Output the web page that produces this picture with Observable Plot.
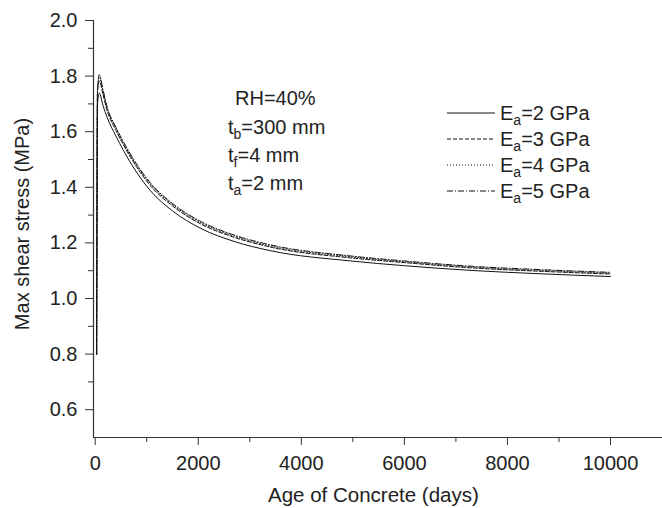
<!DOCTYPE html>
<html><head><meta charset="utf-8">
<script src="https://cdn.jsdelivr.net/npm/d3@7"></script>
<script src="https://cdn.jsdelivr.net/npm/@observablehq/plot@0.6"></script>
<style>
body{margin:0;background:#fff;}
#wrap{position:relative;width:662px;height:508px;font-family:"Liberation Sans",Arial,Helvetica,sans-serif;color:#222;}
.t{position:absolute;font-size:20px;line-height:20px;white-space:nowrap;}
.t sub{font-size:14px;vertical-align:-5px;line-height:0;}
#wrap svg.ov{position:absolute;left:0;top:0;pointer-events:none;}
</style></head><body><div id="wrap"></div>
<script>
// ---- data ----
const days = [28, 45, 80, 150, 230, 400, 550, 800, 1070, 1500, 2050, 2700, 3400, 4960, 6000, 7390, 8500, 10000];
const ea2 = [0.80, 1.70, 1.739, 1.695, 1.652, 1.585, 1.532, 1.455, 1.388, 1.315, 1.252, 1.205, 1.172, 1.135, 1.118, 1.100, 1.090, 1.079];
const ea3 = [0.80, 1.74, 1.782, 1.735, 1.677, 1.605, 1.552, 1.474, 1.406, 1.333, 1.268, 1.220, 1.185, 1.146, 1.129, 1.109, 1.099, 1.088];
const ea4 = [0.80, 1.75, 1.794, 1.745, 1.684, 1.612, 1.558, 1.480, 1.412, 1.338, 1.273, 1.224, 1.189, 1.150, 1.132, 1.112, 1.102, 1.091];
const ea5 = [0.80, 1.76, 1.805, 1.752, 1.690, 1.617, 1.563, 1.485, 1.416, 1.342, 1.277, 1.228, 1.193, 1.153, 1.135, 1.115, 1.105, 1.094];
const seriesNames = ["2", "3", "4", "5"];
const seriesValues = [ea2, ea3, ea4, ea5];
const dashes = [null, "4,2", "1,2", "6,2,1,2"];
const xMajor = [0, 2000, 4000, 6000, 8000, 10000];
const xMinor = [1000, 3000, 5000, 7000, 9000];
const yMajor = [0.6, 0.8, 1.0, 1.2, 1.4, 1.6, 1.8, 2.0];
const yMinor = [0.7, 0.9, 1.1, 1.3, 1.5, 1.7, 1.9];
const xDomain = [-33, 11009];
const yDomain = [0.5, 2.0];
const xTitle = "Age of Concrete (days)";
const yTitle = "Max shear stress (MPa)";

const table = seriesNames.flatMap((s, i) => days.map((d, j) => ({day: d, v: seriesValues[i][j], s})));

const axisColor = "#333";
const marks = [];
seriesNames.forEach((s, i) => {
  marks.push(Plot.line(table.filter(r => r.s === s), {
    x: "day", y: "v", curve: "monotone-x", stroke: "#111", strokeWidth: 1,
    strokeDasharray: dashes[i] || undefined
  }));
});
marks.push(
  Plot.ruleY([yDomain[0]], {stroke: axisColor, strokeWidth: 1.2}),
  Plot.ruleX([xDomain[0]], {stroke: axisColor, strokeWidth: 1.2}),
  Plot.axisX({ticks: xMajor, tickSize: 8, tickPadding: 10, tickFormat: d3.format("d"), label: null, stroke: axisColor, fill: "#222", fontSize: 20}),
  Plot.axisX({ticks: xMinor, tickSize: 5, tickFormat: null, label: null, stroke: axisColor, text: null}),
  Plot.axisY({ticks: yMajor, tickSize: 8, tickPadding: 8, tickFormat: d3.format(".1f"), label: null, stroke: axisColor, fill: "#222", fontSize: 20}),
  Plot.axisY({ticks: yMinor, tickSize: 5, tickFormat: null, label: null, stroke: axisColor, text: null})
);

const chart = Plot.plot({
  width: 662, height: 508,
  marginLeft: 93, marginRight: 0, marginTop: 20, marginBottom: 71,
  x: {domain: xDomain},
  y: {domain: yDomain},
  style: {fontFamily: '"Liberation Sans", Arial, sans-serif', fontSize: "20px", background: "white", color: "#222"},
  marks
});
const wrap = document.getElementById("wrap");
wrap.appendChild(chart);

function addText(html, left, top, extra) {
  const d = document.createElement("div");
  d.className = "t";
  d.innerHTML = html;
  d.style.left = left + "px";
  d.style.top = top + "px";
  if (extra) Object.assign(d.style, extra);
  wrap.appendChild(d);
  return d;
}
// axis titles
addText(xTitle, 268, 485, {fontSize: "20.5px"});
addText(yTitle, 22, 224, {transform: "translate(-50%,-50%) rotate(-90deg)", transformOrigin: "50% 50%"});

// annotation
const notes = ["RH=40%", "t<sub>b</sub>=300 mm", "t<sub>f</sub>=4 mm", "t<sub>a</sub>=2 mm"];
const noteX = [235, 228, 228, 228];
const noteY = [98, 127, 155, 183];
notes.forEach((n, i) => addText(n, noteX[i], noteY[i] - 10));

// legend
const legY = [113, 139, 165, 191];
const ov = d3.select(wrap).append("svg").attr("class", "ov").attr("width", 662).attr("height", 508);
seriesNames.forEach((s, i) => {
  ov.append("line").attr("x1", 447).attr("x2", 495).attr("y1", legY[i]).attr("y2", legY[i])
    .attr("stroke", "#111").attr("stroke-width", 1)
    .attr("stroke-dasharray", dashes[i]);
  addText("E<sub>a</sub>=" + s + " GPa", 500, legY[i] - 10);
});
</script>
</body></html>
